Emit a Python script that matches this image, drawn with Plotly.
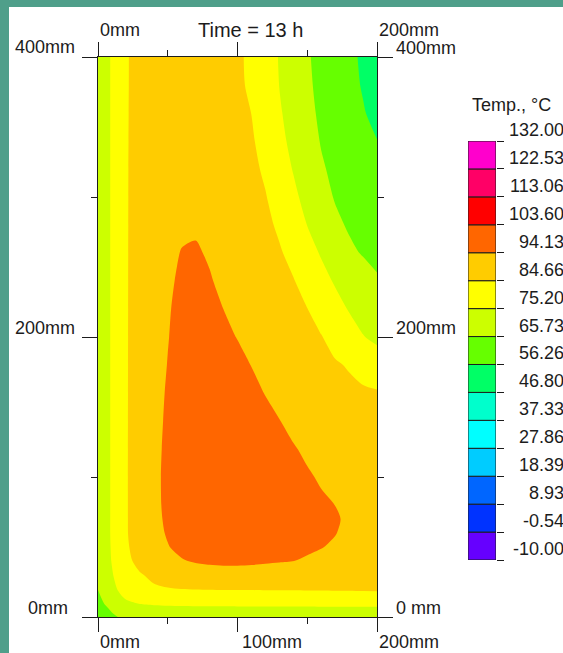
import plotly.graph_objects as go

# ---------------- data ----------------
x_mm = [0, 5, 10, 15, 20, 30, 40, 50, 60, 70, 80, 90, 100, 110, 120, 130, 140, 150, 160, 170, 180, 190, 200]
y_mm = [0, 5, 10, 15, 20, 30, 40, 50, 60, 70, 80, 100, 120, 140, 160, 180, 200, 220, 240, 260, 280, 300, 320,
        340, 360, 380, 400]

temp_c = [
    [60.0, 62.0, 64.3, 66.0, 67.0, 68.0, 68.5, 68.8, 69.0, 69.0, 69.1, 69.1, 69.1, 69.1, 69.1, 69.1, 69.1, 69.1, 69.2, 69.2, 69.2, 69.2, 69.2],
    [61.5, 64.0, 66.5, 68.6, 70.2, 71.6, 72.2, 72.5, 72.6, 72.7, 72.7, 72.8, 72.8, 72.8, 72.8, 72.9, 72.9, 72.9, 73.0, 73.0, 73.0, 73.0, 73.0],
    [63.0, 66.3, 69.3, 71.8, 73.8, 75.8, 76.6, 77.0, 77.2, 77.3, 77.4, 77.4, 77.5, 77.5, 77.5, 77.5, 77.5, 77.5, 77.7, 77.7, 77.7, 77.7, 77.7],
    [64.5, 68.0, 71.3, 74.2, 76.6, 79.8, 80.9, 81.5, 81.8, 82.0, 82.1, 82.2, 82.2, 82.3, 82.3, 82.3, 82.3, 82.3, 82.4, 82.5, 82.6, 82.7, 82.8],
    [65.9, 69.5, 73.0, 76.0, 78.6, 82.3, 83.6, 84.3, 84.7, 84.9, 85.0, 85.1, 85.1, 85.1, 85.2, 85.2, 85.2, 85.3, 85.3, 85.4, 85.4, 85.5, 85.5],
    [67.0, 70.8, 74.6, 77.9, 80.6, 84.0, 86.3, 88.0, 89.2, 90.0, 90.5, 90.8, 90.9, 90.8, 90.6, 90.3, 90.0, 89.6, 89.2, 88.8, 88.4, 88.1, 87.8],
    [67.5, 71.6, 75.6, 79.0, 82.6, 87.0, 89.6, 91.8, 93.6, 94.8, 95.5, 95.8, 95.8, 95.5, 95.0, 94.6, 94.2, 93.6, 92.9, 92.0, 91.0, 89.9, 89.0],
    [67.9, 72.0, 76.0, 79.6, 83.4, 88.6, 91.2, 93.8, 96.0, 97.5, 98.2, 98.5, 98.4, 98.0, 97.3, 96.4, 95.6, 94.9, 94.3, 93.5, 92.3, 90.9, 89.6],
    [68.0, 72.2, 76.2, 79.9, 83.9, 89.0, 91.8, 94.8, 97.2, 98.8, 99.5, 99.8, 99.7, 99.2, 98.4, 97.5, 96.6, 95.7, 94.9, 94.3, 93.0, 91.4, 90.0],
    [68.0, 72.2, 76.2, 79.9, 83.9, 89.2, 92.1, 95.4, 98.0, 99.5, 100.2, 100.5, 100.3, 99.8, 99.0, 98.1, 97.2, 96.3, 95.4, 94.6, 93.4, 91.6, 90.1],
    [68.0, 72.2, 76.2, 79.9, 83.9, 89.3, 92.3, 95.7, 98.3, 99.8, 100.6, 100.9, 100.7, 100.1, 99.2, 98.2, 97.1, 96.0, 95.0, 94.1, 92.8, 91.2, 90.0],
    [68.0, 72.2, 76.2, 79.9, 83.9, 89.3, 92.3, 95.9, 98.5, 100.0, 100.8, 101.0, 100.7, 99.9, 98.8, 97.5, 96.1, 94.8, 93.5, 92.2, 91.1, 90.3, 89.6],
    [68.0, 72.2, 76.2, 79.9, 83.9, 89.2, 92.2, 95.6, 98.2, 99.7, 100.4, 100.5, 100.0, 99.0, 97.6, 96.0, 94.6, 93.1, 91.8, 90.7, 89.9, 89.3, 88.8],
    [68.0, 72.2, 76.2, 79.9, 83.9, 89.1, 92.0, 95.2, 97.8, 99.3, 99.9, 99.8, 99.0, 97.7, 96.0, 94.3, 92.5, 91.0, 89.8, 88.9, 88.2, 87.8, 87.5],
    [68.0, 72.2, 76.2, 79.9, 83.9, 89.0, 91.8, 94.8, 97.3, 98.8, 99.3, 98.8, 97.6, 95.9, 93.9, 92.0, 90.3, 88.9, 87.8, 86.9, 86.3, 85.9, 85.5],
    [68.0, 72.2, 76.2, 79.9, 83.9, 88.9, 91.6, 94.3, 96.8, 98.2, 98.4, 97.6, 96.0, 94.0, 92.0, 90.3, 88.8, 87.5, 86.4, 85.4, 84.1, 81.6, 79.0],
    [68.0, 72.2, 76.2, 79.9, 83.9, 88.8, 91.4, 93.9, 96.3, 97.5, 97.2, 95.8, 93.9, 92.0, 90.3, 88.9, 87.6, 86.3, 85.0, 82.05, 78.8, 75.5, 73.6],
    [68.0, 72.2, 76.2, 79.9, 83.9, 88.7, 91.2, 93.6, 95.8, 96.8, 96.2, 94.1, 92.0, 90.3, 88.8, 87.4, 86.1, 84.8, 81.5, 78.0, 74.7, 72.4, 70.0],
    [68.0, 72.2, 76.2, 79.9, 83.9, 88.6, 91.0, 93.2, 95.1, 96.0, 94.6, 92.8, 91.2, 89.6, 88.0, 86.5, 85.1, 81.6, 77.85, 74.4, 71.7, 69.1, 66.4],
    [68.0, 72.2, 76.2, 79.9, 83.9, 88.5, 90.8, 92.6, 94.4, 94.8, 93.5, 92.3, 90.9, 89.2, 87.4, 85.5, 82.3, 78.35, 74.5, 70.8, 67.2, 65.2, 64.2],
    [68.0, 72.2, 76.2, 79.9, 83.9, 88.4, 90.6, 92.0, 93.0, 93.3, 93.0, 92.2, 90.8, 88.8, 86.5, 83.4, 79.3, 75.1, 71.3, 67.3, 64.9, 63.4, 62.0],
    [68.0, 72.2, 76.2, 79.9, 83.9, 88.3, 90.3, 91.4, 91.9, 91.9, 91.5, 90.6, 89.3, 87.4, 85.1, 81.0, 76.9, 72.7, 68.6, 65.2, 63.5, 61.7, 60.0],
    [68.0, 72.2, 76.2, 79.9, 83.9, 88.2, 90.1, 91.0, 91.3, 91.2, 90.7, 89.8, 88.5, 86.6, 83.4, 79.1, 74.8, 70.7, 66.6, 64.1, 62.1, 60.1, 58.1],
    [68.0, 72.2, 76.2, 79.9, 83.9, 88.0, 89.8, 90.6, 90.8, 90.6, 90.0, 89.0, 87.6, 85.6, 81.65, 77.35, 73.1, 69.0, 65.3, 63.1, 60.8, 58.6, 56.4],
    [68.0, 72.2, 76.2, 79.9, 83.9, 87.8, 89.5, 90.2, 90.3, 90.0, 89.3, 88.2, 86.8, 84.6, 80.4, 76.1, 71.9, 67.8, 64.4, 61.9, 59.3, 56.8, 54.2],
    [68.0, 72.2, 76.2, 79.9, 83.9, 87.6, 89.2, 89.8, 89.8, 89.3, 88.5, 87.4, 86.1, 83.4, 79.3, 75.1, 71.1, 67.0, 63.8, 61.1, 58.4, 55.7, 53.0],
    [68.0, 72.2, 76.2, 79.9, 83.9, 87.5, 89.0, 89.5, 89.5, 89.0, 88.0, 86.8, 86.0, 83.0, 78.7, 74.8, 70.7, 66.5, 63.5, 60.7, 57.9, 55.2, 52.5],
]

levels = [-10.00, -0.54, 8.93, 18.39, 27.86, 37.33, 46.80, 56.26, 65.73, 75.20, 84.66, 94.13, 103.60, 113.06,
          122.53, 132.00]
level_labels = ["-10.00", "-0.54", "8.93", "18.39", "27.86", "37.33", "46.80", "56.26", "65.73", "75.20",
                "84.66", "94.13", "103.60", "113.06", "122.53", "132.00"]
band_colors = ["#6600ff", "#0033ff", "#0066ff", "#00ccff", "#00ffff", "#00ffcc", "#00ff66", "#66ff00",
               "#ccff00", "#ffff00", "#ffcc00", "#ff6600", "#ff0000", "#ff0066", "#ff00cc"]

x_ticks = [0, 100, 200]
x_minor = [50, 150]
y_ticks = [0, 200, 400]
y_minor = [100, 300]
bottom_labels = ["0mm", "100mm", "200mm"]
top_labels = {0: "0mm", 200: "200mm"}
left_labels = ["0mm", "200mm", "400mm"]
right_labels = ["0 mm", "200mm", "400mm"]
title_text = "Time = 13 h"
cbar_title = "Temp., °C"

# ---------------- layout constants (pixels) ----------------
W, H = 563, 653
PL, PR, PT, PB = 98, 377, 57, 617          # main plot area
CL, CR, CT, CB = 468, 496, 141, 560        # colour bar
TEAL = "#4f9f8a"
INK = "#1c1c1c"
FONT = "Liberation Sans, Arial, sans-serif"
FS = 18

n = len(band_colors)
start, end = levels[0], levels[-1]
size = (end - start) / n
# plotly fills band i with colour at position (i+1)/(n+1)
cscale = [[0.0, band_colors[0]]] + [[(i + 1) / (n + 1), c] for i, c in enumerate(band_colors)] + [[1.0, band_colors[-1]]]

fig = go.Figure()
fig.add_trace(go.Contour(
    x=x_mm, y=y_mm, z=temp_c,
    colorscale=cscale, showscale=False,
    contours=dict(start=start, end=end, size=size, coloring="fill", showlines=False),
    line=dict(width=0, smoothing=0.8),
    hoverinfo="skip",
))

# colour bar drawn as stacked bar segments on its own axis
heights = [levels[i + 1] - levels[i] for i in range(n)]
fig.add_trace(go.Bar(
    x=[0] * n, y=heights, base=levels[:-1], width=1,
    marker=dict(color=band_colors, line=dict(color=INK, width=1)),
    xaxis="x2", yaxis="y2", hoverinfo="skip", showlegend=False,
))

axis_common = dict(showgrid=False, zeroline=False, showline=True, linecolor=INK, linewidth=1,
                   mirror="ticks", ticks="outside", tickcolor=INK, tickwidth=1, showticklabels=False)

fig.update_layout(
    width=W, height=H, autosize=False,
    margin=dict(l=0, r=0, t=0, b=0, pad=0),
    paper_bgcolor="white", plot_bgcolor="white",
    showlegend=False, barmode="overlay",
    font=dict(family=FONT, size=FS, color=INK),
    xaxis=dict(domain=[PL / W, PR / W], range=[0, 200], tickvals=x_ticks, ticklen=14,
               minor=dict(tickvals=x_minor, ticks="outside", ticklen=6, tickcolor=INK), **axis_common),
    yaxis=dict(domain=[(H - PB) / H, (H - PT) / H], range=[0, 400], tickvals=y_ticks, ticklen=15,
               minor=dict(tickvals=y_minor, ticks="outside", ticklen=6, tickcolor=INK), **axis_common),
    xaxis2=dict(domain=[CL / W, CR / W], range=[-0.5, 0.5], visible=False, anchor="y2"),
    yaxis2=dict(domain=[(H - CB) / H, (H - CT) / H], range=[start, end], anchor="x2", side="right",
                tickvals=levels, ticks="outside", ticklen=7, tickcolor=INK, showticklabels=False,
                showgrid=False, zeroline=False, showline=False),
)

# teal frame strips (top and left)
fig.add_shape(type="rect", xref="paper", yref="paper", x0=-0.01, x1=9 / W, y0=-0.01, y1=1.01,
              fillcolor=TEAL, line=dict(width=0), layer="above")
fig.add_shape(type="rect", xref="paper", yref="paper", x0=-0.01, x1=1.01, y0=1 - 7 / H, y1=1.01,
              fillcolor=TEAL, line=dict(width=0), layer="above")

ann = []
for v, t in zip(y_ticks, left_labels):
    ann.append(dict(x=0, y=v, xref="x", yref="y", text=t, showarrow=False, xanchor="right", yanchor="middle",
                    xshift=-21 if v else -28, yshift=9.5))
for v, t in zip(y_ticks, right_labels):
    ann.append(dict(x=200, y=v, xref="x", yref="y", text=t, showarrow=False, xanchor="left", yanchor="middle",
                    xshift=17, yshift=9 if v == 400 else 9.5))
for v, t in zip(x_ticks, bottom_labels):
    ann.append(dict(x=v, y=0, xref="x", yref="y", text=t, showarrow=False, xanchor="left", yanchor="middle",
                    xshift=2 if v == 100 else 0, yshift=-25))
for v, t in top_labels.items():
    ann.append(dict(x=v, y=400, xref="x", yref="y", text=t, showarrow=False, xanchor="left", yanchor="middle",
                    yshift=26.5))
ann.append(dict(x=250 / W, y=1 - 30 / H, xref="paper", yref="paper", text=title_text, showarrow=False,
                xanchor="center", yanchor="middle", font=dict(size=20)))
ann.append(dict(x=470 / W, y=1 - 105 / H, xref="paper", yref="paper", text=cbar_title, showarrow=False,
                xanchor="left", yanchor="middle"))
for v, t in zip(levels, level_labels):
    ann.append(dict(x=566 / W, y=v, xref="paper", yref="y2", text=t, showarrow=False, xanchor="right",
                    yanchor="bottom", yshift=-1))
fig.update_layout(annotations=ann)

fig.write_html("out.html", config={"displayModeBar": False},
               post_script="document.body.style.margin='0';document.body.style.overflow='hidden';")
